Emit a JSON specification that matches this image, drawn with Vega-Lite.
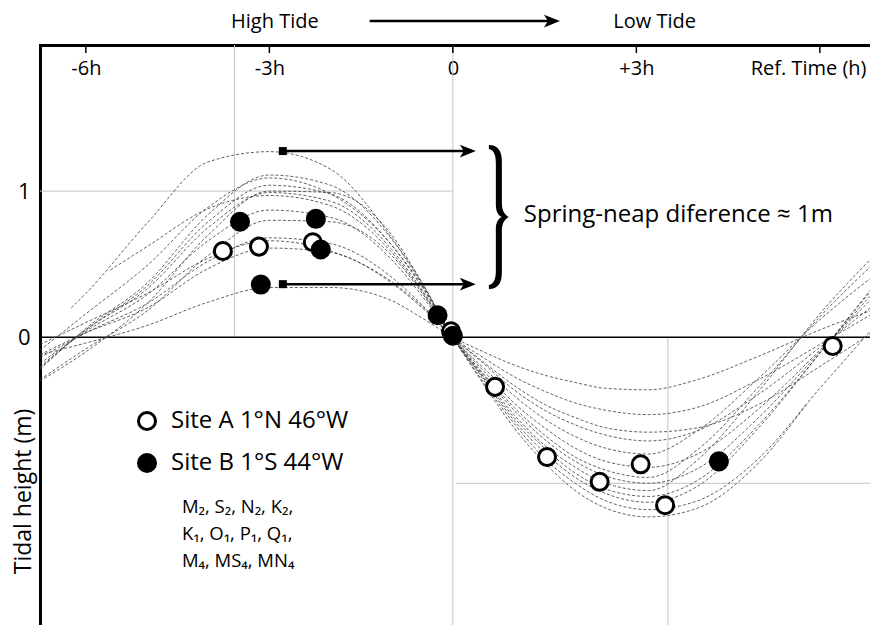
{
  "$schema": "https://vega.github.io/schema/vega-lite/v6.json",
  "width": 830,
  "height": 580,
  "autosize": {"type": "none"},
  "padding": {"left": 40, "top": 45, "right": 0, "bottom": 0},
  "background": "white",
  "config": {"view": {"stroke": null}, "font": "Open Sans", "text": {"font": "Open Sans", "color": "black"}},
  "datasets": {
    "vgrid": [{"t": -3.57, "h": 2.0, "h2": 0}, {"t": 0, "h": 2.0, "h2": -1.97}, {"t": 3.515, "h": 0, "h2": -1.97}],
    "hgrid": [{"t": -6.75, "t2": 0, "h": 1}, {"t": 0.05, "t2": 6.82, "h": -1}],
    "zero": [{"t": -6.75, "t2": 6.82, "h": 0}],
    "ticks": [{"t": -6, "h": 2.0, "h2": 1.945}, {"t": -3, "h": 2.0, "h2": 1.945}, {"t": 0, "h": 2.0, "h2": 1.945}, {"t": 3, "h": 2.0, "h2": 1.945}, {"t": 6, "h": 2.0, "h2": 1.945}],
    "curves": [
      {"c":1,"t":-6.24,"h":0.2},{"c":1,"t":-6,"h":0.3},{"c":1,"t":-5,"h":0.78},{"c":1,"t":-4,"h":1.2},{"c":1,"t":-3,"h":1.27},{"c":1,"t":-2,"h":1.15},{"c":1,"t":-1,"h":0.68},{"c":1,"t":-0.5,"h":0.37},{"c":1,"t":0,"h":0},{"c":1,"t":0.5,"h":-0.29},{"c":1,"t":1,"h":-0.57},{"c":1,"t":1.5,"h":-0.79},{"c":1,"t":2,"h":-0.96},{"c":1,"t":2.5,"h":-1.07},{"c":1,"t":3.2,"h":-1.13},{"c":1,"t":4,"h":-1.02},{"c":1,"t":5,"h":-0.62},{"c":1,"t":6,"h":-0.11},{"c":1,"t":6.82,"h":0.32},
      {"c":2,"t":-6.75,"h":-0.22},{"c":2,"t":-6,"h":0.06},{"c":2,"t":-5,"h":0.37},{"c":2,"t":-4,"h":0.84},{"c":2,"t":-3,"h":1.11},{"c":2,"t":-2,"h":1.04},{"c":2,"t":-1,"h":0.67},{"c":2,"t":-0.5,"h":0.36},{"c":2,"t":0,"h":0},{"c":2,"t":0.5,"h":-0.31},{"c":2,"t":1,"h":-0.59},{"c":2,"t":1.5,"h":-0.83},{"c":2,"t":2,"h":-1.0},{"c":2,"t":2.5,"h":-1.12},{"c":2,"t":3.2,"h":-1.18},{"c":2,"t":4,"h":-1.12},{"c":2,"t":5,"h":-0.83},{"c":2,"t":6,"h":-0.35},{"c":2,"t":6.82,"h":0.04},
      {"c":3,"t":-6.75,"h":-0.09},{"c":3,"t":-6,"h":0.16},{"c":3,"t":-5,"h":0.49},{"c":3,"t":-4,"h":0.89},{"c":3,"t":-3,"h":1.09},{"c":3,"t":-2,"h":0.98},{"c":3,"t":-1,"h":0.63},{"c":3,"t":-0.5,"h":0.35},{"c":3,"t":0,"h":0},{"c":3,"t":0.5,"h":-0.32},{"c":3,"t":1,"h":-0.62},{"c":3,"t":1.5,"h":-0.86},{"c":3,"t":2,"h":-1.05},{"c":3,"t":2.5,"h":-1.17},{"c":3,"t":3.2,"h":-1.23},{"c":3,"t":4,"h":-1.17},{"c":3,"t":5,"h":-0.86},{"c":3,"t":5.8,"h":-0.45},
      {"c":4,"t":-6.75,"h":-0.21},{"c":4,"t":-6,"h":0.05},{"c":4,"t":-5,"h":0.35},{"c":4,"t":-4,"h":0.79},{"c":4,"t":-3,"h":1.04},{"c":4,"t":-2,"h":0.98},{"c":4,"t":-1,"h":0.63},{"c":4,"t":-0.5,"h":0.34},{"c":4,"t":0,"h":0},{"c":4,"t":0.5,"h":-0.28},{"c":4,"t":1,"h":-0.55},{"c":4,"t":1.5,"h":-0.76},{"c":4,"t":2,"h":-0.93},{"c":4,"t":2.5,"h":-1.04},{"c":4,"t":3.2,"h":-1.09},{"c":4,"t":4,"h":-0.98},{"c":4,"t":5,"h":-0.6},{"c":4,"t":6,"h":-0.11},{"c":4,"t":6.82,"h":0.31},
      {"c":5,"t":-6.75,"h":-0.3},{"c":5,"t":-6,"h":-0.1},{"c":5,"t":-5,"h":0.23},{"c":5,"t":-4,"h":0.7},{"c":5,"t":-3,"h":1.0},{"c":5,"t":-2,"h":0.99},{"c":5,"t":-1,"h":0.7},{"c":5,"t":-0.5,"h":0.37},{"c":5,"t":0,"h":0},{"c":5,"t":0.5,"h":-0.27},{"c":5,"t":1,"h":-0.53},{"c":5,"t":1.5,"h":-0.74},{"c":5,"t":2,"h":-0.89},{"c":5,"t":2.5,"h":-1.0},{"c":5,"t":3.2,"h":-1.05},{"c":5,"t":4,"h":-0.84},{"c":5,"t":5,"h":-0.37},{"c":5,"t":6,"h":0.16},{"c":5,"t":6.82,"h":0.53},
      {"c":6,"t":-6.75,"h":-0.2},{"c":6,"t":-6,"h":0.05},{"c":6,"t":-5,"h":0.33},{"c":6,"t":-4,"h":0.75},{"c":6,"t":-3,"h":0.99},{"c":6,"t":-2,"h":0.93},{"c":6,"t":-1,"h":0.6},{"c":6,"t":-0.5,"h":0.32},{"c":6,"t":0,"h":0},{"c":6,"t":0.5,"h":-0.26},{"c":6,"t":1,"h":-0.5},{"c":6,"t":1.5,"h":-0.7},{"c":6,"t":2,"h":-0.85},{"c":6,"t":2.5,"h":-0.95},{"c":6,"t":3.2,"h":-1.0},{"c":6,"t":4,"h":-0.9},{"c":6,"t":5,"h":-0.55},{"c":6,"t":6,"h":-0.1},{"c":6,"t":6.82,"h":0.28},
      {"c":7,"t":-5.6,"h":0.46},{"c":7,"t":-5,"h":0.62},{"c":7,"t":-4,"h":0.88},{"c":7,"t":-3,"h":0.97},{"c":7,"t":-2,"h":0.9},{"c":7,"t":-1,"h":0.58},{"c":7,"t":-0.5,"h":0.31},{"c":7,"t":0,"h":0},{"c":7,"t":0.5,"h":-0.25},{"c":7,"t":1,"h":-0.48},{"c":7,"t":1.5,"h":-0.67},{"c":7,"t":2,"h":-0.82},{"c":7,"t":2.5,"h":-0.91},{"c":7,"t":3.2,"h":-0.96},{"c":7,"t":4,"h":-0.77},{"c":7,"t":5,"h":-0.34},{"c":7,"t":6,"h":0.14},{"c":7,"t":6.82,"h":0.48},
      {"c":8,"t":-6.75,"h":-0.18},{"c":8,"t":-6,"h":0.04},{"c":8,"t":-5,"h":0.29},{"c":8,"t":-4,"h":0.66},{"c":8,"t":-3,"h":0.87},{"c":8,"t":-2,"h":0.82},{"c":8,"t":-1,"h":0.53},{"c":8,"t":-0.5,"h":0.28},{"c":8,"t":0,"h":0},{"c":8,"t":0.5,"h":-0.23},{"c":8,"t":1,"h":-0.45},{"c":8,"t":1.5,"h":-0.62},{"c":8,"t":2,"h":-0.76},{"c":8,"t":2.5,"h":-0.85},{"c":8,"t":3.2,"h":-0.89},{"c":8,"t":4,"h":-0.8},{"c":8,"t":5,"h":-0.49},{"c":8,"t":6,"h":-0.09},{"c":8,"t":6.82,"h":0.25},
      {"c":9,"t":-6.75,"h":-0.29},{"c":9,"t":-6,"h":-0.08},{"c":9,"t":-5,"h":0.18},{"c":9,"t":-4,"h":0.56},{"c":9,"t":-3,"h":0.8},{"c":9,"t":-2,"h":0.79},{"c":9,"t":-1,"h":0.56},{"c":9,"t":-0.5,"h":0.3},{"c":9,"t":0,"h":0},{"c":9,"t":0.5,"h":-0.21},{"c":9,"t":1,"h":-0.4},{"c":9,"t":1.5,"h":-0.56},{"c":9,"t":2,"h":-0.68},{"c":9,"t":2.5,"h":-0.76},{"c":9,"t":3.2,"h":-0.8},{"c":9,"t":4,"h":-0.64},{"c":9,"t":5,"h":-0.28},{"c":9,"t":6,"h":0.12},{"c":9,"t":6.82,"h":0.4},
      {"c":10,"t":-6.75,"h":-0.14},{"c":10,"t":-6,"h":0.03},{"c":10,"t":-5,"h":0.23},{"c":10,"t":-4,"h":0.52},{"c":10,"t":-3,"h":0.68},{"c":10,"t":-2,"h":0.64},{"c":10,"t":-1,"h":0.41},{"c":10,"t":-0.5,"h":0.22},{"c":10,"t":0,"h":0},{"c":10,"t":0.5,"h":-0.18},{"c":10,"t":1,"h":-0.36},{"c":10,"t":1.5,"h":-0.5},{"c":10,"t":2,"h":-0.6},{"c":10,"t":2.5,"h":-0.67},{"c":10,"t":3.2,"h":-0.71},{"c":10,"t":4,"h":-0.64},{"c":10,"t":5,"h":-0.39},{"c":10,"t":6,"h":-0.07},{"c":10,"t":6.82,"h":0.2},
      {"c":11,"t":-6.75,"h":-0.05},{"c":11,"t":-6,"h":0.1},{"c":11,"t":-5,"h":0.3},{"c":11,"t":-4,"h":0.54},{"c":11,"t":-3,"h":0.66},{"c":11,"t":-2,"h":0.59},{"c":11,"t":-1,"h":0.38},{"c":11,"t":-0.5,"h":0.21},{"c":11,"t":0,"h":0},{"c":11,"t":0.5,"h":-0.17},{"c":11,"t":1,"h":-0.33},{"c":11,"t":1.5,"h":-0.46},{"c":11,"t":2,"h":-0.55},{"c":11,"t":2.5,"h":-0.62},{"c":11,"t":3.2,"h":-0.65},{"c":11,"t":4,"h":-0.62},{"c":11,"t":5,"h":-0.46},{"c":11,"t":6,"h":-0.2},{"c":11,"t":6.82,"h":0.02},
      {"c":12,"t":-6.75,"h":-0.12},{"c":12,"t":-6,"h":0.03},{"c":12,"t":-5,"h":0.2},{"c":12,"t":-4,"h":0.47},{"c":12,"t":-3,"h":0.61},{"c":12,"t":-2,"h":0.58},{"c":12,"t":-1,"h":0.37},{"c":12,"t":-0.5,"h":0.2},{"c":12,"t":0,"h":0},{"c":12,"t":0.5,"h":-0.14},{"c":12,"t":1,"h":-0.27},{"c":12,"t":1.5,"h":-0.37},{"c":12,"t":2,"h":-0.45},{"c":12,"t":2.5,"h":-0.5},{"c":12,"t":3.2,"h":-0.53},{"c":12,"t":4,"h":-0.48},{"c":12,"t":5,"h":-0.29},{"c":12,"t":6,"h":-0.05},{"c":12,"t":6.82,"h":0.15},
      {"c":13,"t":-6.75,"h":-0.12},{"c":13,"t":-6,"h":-0.04},{"c":13,"t":-5,"h":0.08},{"c":13,"t":-4,"h":0.24},{"c":13,"t":-3,"h":0.34},{"c":13,"t":-2,"h":0.34},{"c":13,"t":-1,"h":0.25},{"c":13,"t":-0.5,"h":0.13},{"c":13,"t":0,"h":0},{"c":13,"t":0.5,"h":-0.1},{"c":13,"t":1,"h":-0.19},{"c":13,"t":1.5,"h":-0.26},{"c":13,"t":2,"h":-0.31},{"c":13,"t":2.5,"h":-0.35},{"c":13,"t":3.2,"h":-0.36},{"c":13,"t":4,"h":-0.29},{"c":13,"t":5,"h":-0.13},{"c":13,"t":6,"h":0.05},{"c":13,"t":6.82,"h":0.18}
    ],
    "arrows": [{"t": -2.78, "t2": 0.25, "h": 1.274}, {"t": -2.78, "t2": 0.25, "h": 0.363}, {"t": -1.36, "t2": 1.62, "h": 2.164}],
    "squares": [{"t": -2.78, "h": 1.274}, {"t": -2.78, "h": 0.363}],
    "heads": [{"t": 0.245, "h": 1.274}, {"t": 0.245, "h": 0.363}, {"t": 1.62, "h": 2.164}],
    "brace": [{"t": 0.736, "h": 0.822}],
    "labels": [
      {"t": 1.16, "h": 0.836, "txt": "Spring-neap diference ≈ 1m", "kind": "left"},
      {"t": -2.91, "h": 2.158, "txt": "High Tide", "kind": "center"},
      {"t": 3.3, "h": 2.158, "txt": "Low Tide", "kind": "center"}
    ],
    "pts": [
      {"site": "Site A 1°N 46°W", "t": -3.76, "h": 0.59},
      {"site": "Site A 1°N 46°W", "t": -3.17, "h": 0.62},
      {"site": "Site A 1°N 46°W", "t": -2.29, "h": 0.65},
      {"site": "Site A 1°N 46°W", "t": -0.03, "h": 0.04},
      {"site": "Site A 1°N 46°W", "t": 0.69, "h": -0.34},
      {"site": "Site A 1°N 46°W", "t": 1.54, "h": -0.82},
      {"site": "Site A 1°N 46°W", "t": 2.4, "h": -0.99},
      {"site": "Site A 1°N 46°W", "t": 3.07, "h": -0.87},
      {"site": "Site A 1°N 46°W", "t": 3.47, "h": -1.15},
      {"site": "Site A 1°N 46°W", "t": 6.21, "h": -0.06},
      {"site": "Site B 1°S 44°W", "t": -3.48, "h": 0.79},
      {"site": "Site B 1°S 44°W", "t": -2.24, "h": 0.81},
      {"site": "Site B 1°S 44°W", "t": -2.16, "h": 0.6},
      {"site": "Site B 1°S 44°W", "t": -3.14, "h": 0.36},
      {"site": "Site B 1°S 44°W", "t": -0.25, "h": 0.15},
      {"site": "Site B 1°S 44°W", "t": 0.0, "h": 0.01},
      {"site": "Site B 1°S 44°W", "t": 4.35, "h": -0.85}
    ],
    "constituents": [{"t": -4.43, "h": -1.205, "txt": "M₂, S₂, N₂, K₂,\nK₁, O₁, P₁, Q₁,\nM₄, MS₄, MN₄"}]
  },
  "encoding": {
    "x": {
      "field": "t", "type": "quantitative",
      "scale": {"domain": [-6.75, 6.82], "nice": false, "zero": false},
      "axis": {
        "orient": "top", "values": [-6, -3, 0, 3, 6],
        "labelExpr": "datum.value == 0 ? '0' : (datum.value == 6 ? '' : (datum.value > 0 ? '+' : '') + datum.value + 'h')",
        "ticks": false, "grid": false,
        "domainColor": "black", "domainWidth": 3, "domainCap": "square",
        "labelFont": "Open Sans", "labelFontSize": 20, "labelColor": "black",
        "labelPadding": -23, "labelBaseline": "middle", "labelFlush": false, "labelOverlap": false,
        "title": "Ref. Time (h)", "titleFont": "Open Sans", "titleFontSize": 20, "titleFontWeight": "normal", "titleColor": "black",
        "titleX": 826, "titleY": 23, "titleAlign": "right", "titleBaseline": "middle", "titleAngle": 0
      }
    },
    "y": {
      "field": "h", "type": "quantitative",
      "scale": {"domain": [-1.97, 2.0], "nice": false, "zero": false},
      "axis": {
        "orient": "left", "values": [0, 1], "ticks": false, "grid": false,
        "domainColor": "black", "domainWidth": 3, "domainCap": "square",
        "labelFont": "Open Sans", "labelFontSize": 22, "labelColor": "black", "labelPadding": 10,
        "title": "Tidal height (m)", "titleFont": "Open Sans", "titleFontSize": 23, "titleFontWeight": "normal", "titleColor": "black",
        "titleX": -17, "titleY": 446, "titleAngle": -90, "titleAlign": "center", "titleBaseline": "middle"
      }
    }
  },
  "layer": [
    {"data": {"name": "vgrid"}, "mark": {"type": "rule", "color": "#c4c4c4", "strokeWidth": 1}, "encoding": {"y2": {"field": "h2"}}},
    {"data": {"name": "hgrid"}, "mark": {"type": "rule", "color": "#c4c4c4", "strokeWidth": 1}, "encoding": {"x2": {"field": "t2"}}},
    {"data": {"name": "zero"}, "mark": {"type": "rule", "color": "black", "strokeWidth": 1.5}, "encoding": {"x2": {"field": "t2"}}},
    {"data": {"name": "ticks"}, "mark": {"type": "rule", "color": "black", "strokeWidth": 1.5}, "encoding": {"y2": {"field": "h2"}}},
    {"data": {"name": "curves"}, "mark": {"type": "line", "interpolate": "monotone", "color": "#3a3a3a", "strokeWidth": 0.8, "strokeDash": [3, 2]}, "encoding": {"detail": {"field": "c", "type": "nominal"}, "order": {"field": "t", "type": "quantitative"}}},
    {"data": {"name": "arrows"}, "mark": {"type": "rule", "color": "black", "strokeWidth": 2.5}, "encoding": {"x2": {"field": "t2"}}},
    {"data": {"name": "squares"}, "mark": {"type": "point", "shape": "square", "filled": true, "color": "black", "size": 64, "opacity": 1}, "encoding": {}},
    {"data": {"name": "heads"}, "mark": {"type": "point", "shape": "M 1 0 L -1 -0.8 L -0.5 0 L -1 0.8 Z", "filled": true, "color": "black", "size": 256, "opacity": 1}, "encoding": {}},
    {"data": {"name": "brace"}, "mark": {"type": "point", "shape": "M -0.124 -0.993 C 0 -0.993 0.055 -0.91 0.055 -0.772 L 0.055 -0.193 C 0.055 -0.083 0.097 -0.028 0.152 0 C 0.097 0.028 0.055 0.083 0.055 0.193 L 0.055 0.772 C 0.055 0.91 0 0.993 -0.124 0.993 L -0.124 0.938 C -0.055 0.924 -0.028 0.855 -0.028 0.745 L -0.028 0.166 C -0.028 0.069 0.014 0.014 0.055 0 C 0.014 -0.014 -0.028 -0.069 -0.028 -0.166 L -0.028 -0.745 C -0.028 -0.855 -0.055 -0.924 -0.124 -0.938 Z", "filled": true, "color": "black", "size": 21025, "opacity": 1}, "encoding": {}},
    {"data": {"name": "labels"}, "transform": [{"filter": "datum.kind == 'left'"}], "mark": {"type": "text", "align": "left", "baseline": "middle", "fontSize": 24, "font": "Open Sans", "color": "black"}, "encoding": {"text": {"field": "txt"}}},
    {"data": {"name": "labels"}, "transform": [{"filter": "datum.kind == 'center'"}], "mark": {"type": "text", "align": "center", "baseline": "middle", "fontSize": 20, "font": "Open Sans", "color": "black"}, "encoding": {"text": {"field": "txt"}}},
    {"data": {"name": "constituents"}, "mark": {"type": "text", "align": "left", "baseline": "alphabetic", "fontSize": 18.5, "lineHeight": 27, "lineBreak": "\n", "font": "Open Sans", "color": "black"}, "encoding": {"text": {"field": "txt"}}},
    {
      "data": {"name": "pts"},
      "mark": {"type": "point", "shape": "circle", "filled": true, "stroke": "black", "strokeWidth": 3, "size": 290, "opacity": 1},
      "encoding": {
        "fill": {
          "field": "site", "type": "nominal",
          "scale": {"domain": ["Site A 1°N 46°W", "Site B 1°S 44°W"], "range": ["white", "black"]},
          "legend": {
            "orient": "none", "legendX": 95, "legendY": 364, "title": null, "padding": 0,
            "symbolType": "circle", "symbolSize": 290, "symbolStrokeColor": "black", "symbolStrokeWidth": 3, "symbolOpacity": 1,
            "labelFont": "Open Sans", "labelFontSize": 24, "labelColor": "black", "labelOffset": 12, "labelLimit": 0, "rowPadding": 12
          }
        }
      }
    }
  ]
}
